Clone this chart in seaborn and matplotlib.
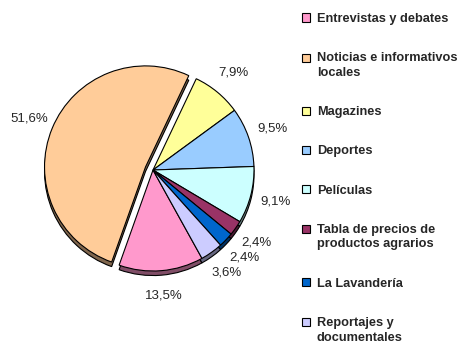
import numpy as np
import matplotlib.pyplot as plt
import matplotlib.colors as mcolors
import matplotlib.patches as mpatches
from matplotlib.legend_handler import HandlerPatch
import seaborn as sns

# data
categories = ["Entrevistas y debates", "Noticias e informativos\nlocales", "Magazines",
              "Deportes", "Películas", "Tabla de precios de\nproductos agrarios",
              "La Lavandería", "Reportajes y\ndocumentales"]
shares = [13.5, 51.6, 7.9, 9.5, 9.1, 2.4, 2.4, 3.6]
colors = ["#FF99CC", "#FFCC99", "#FFFF99", "#99CCFF", "#CCFFFF", "#993366", "#0066CC", "#CCCCFF"]
explode = [0, 0.08, 0, 0, 0, 0, 0, 0]

sns.set_style("white")
plt.rcParams["font.family"] = ["Liberation Sans", "DejaVu Sans"]

fig = plt.figure(figsize=(4.66, 3.64), dpi=100)
ax = fig.add_axes([0, 0, 1, 1])

#darker copy a bit lower for the 3D depth
dark = [tuple(c * 0.5 for c in mcolors.to_rgb(col)) for col in colors]
ax.pie(shares, colors=dark, explode=explode, startangle=-61, counterclock=False,
       center=(0, -0.045), wedgeprops=dict(edgecolor="black", linewidth=0.8))

wedges, texts, pcts = ax.pie(shares, colors=colors, explode=explode, startangle=-61,
                             counterclock=False,
                             autopct=lambda p: f"{p:.1f}%".replace(".", ","),
                             pctdistance=1.25,
                             wedgeprops=dict(edgecolor="black", linewidth=0.8),
                             textprops=dict(fontsize=9.5))

ax.set_xlim(-153 / 101, 313 / 101)
ax.set_ylim(-194 / 101, 170 / 101)
ax.set_aspect("auto")
ax.axis("off")

#two-line entries keep the box next to the first line
def first_line_box(legend, orig_handle, xdescent, ydescent, width, height, fontsize):
    return mpatches.Rectangle((-xdescent, -ydescent + 0.62 * fontsize), width, height)

handler_map = {w: HandlerPatch(patch_func=first_line_box)
               for w, lab in zip(wedges, categories) if "\n" in lab}

leg = fig.legend(wedges, categories, loc="upper left",
                 bbox_to_anchor=(302 / 466, 1 - 13 / 364),
                 frameon=False, prop=dict(weight="bold", size=9.2), handlelength=0.6,
                 handleheight=0.6, handletextpad=0.55, labelspacing=2.13,
                 borderpad=0, borderaxespad=0, handler_map=handler_map)
for t in leg.get_texts():
    t.set_linespacing(1.3)

plt.savefig("out.png", dpi=100)
